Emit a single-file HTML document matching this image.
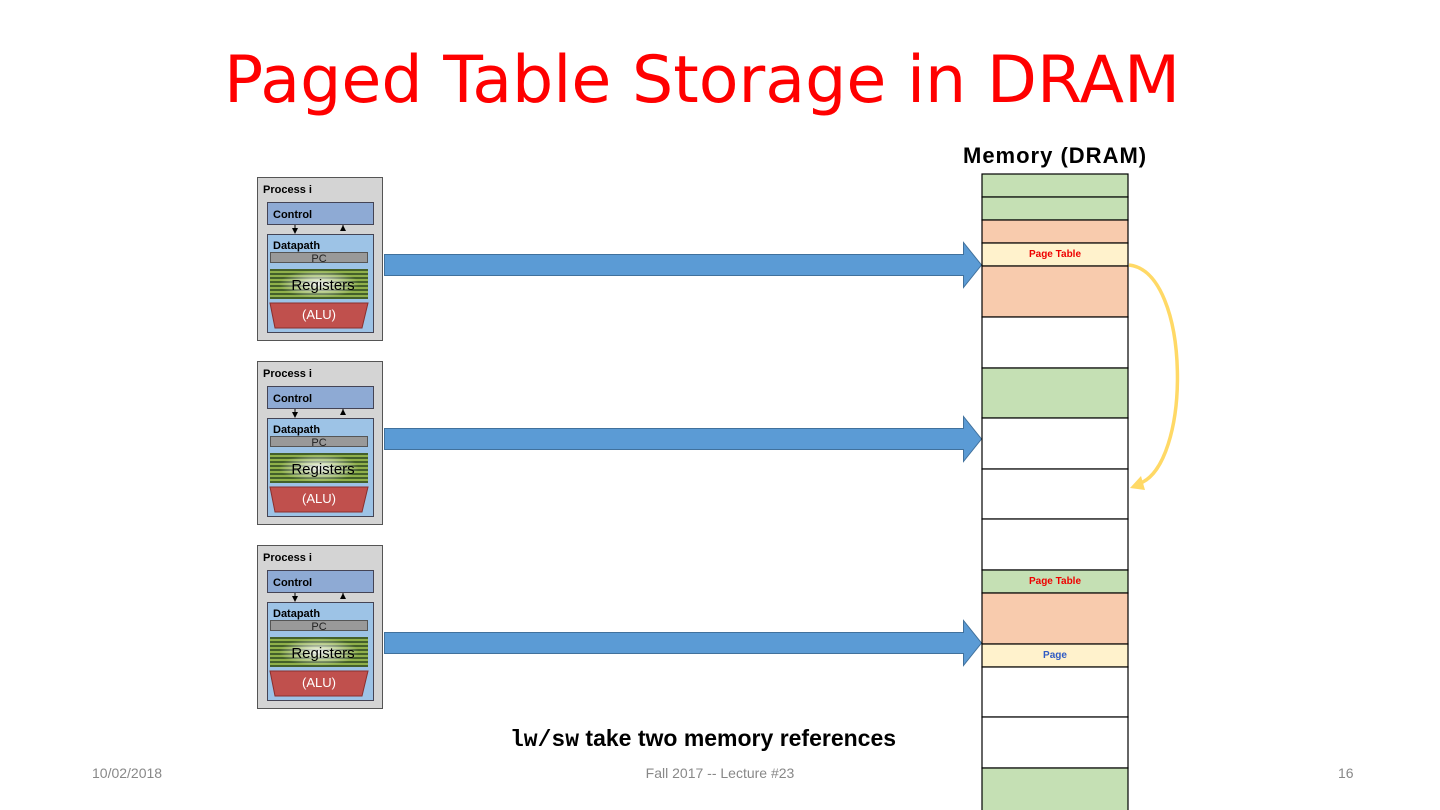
<!DOCTYPE html>
<html><head><meta charset="utf-8"><style>
body{margin:0;width:1440px;height:810px;background:#fff;position:relative;overflow:hidden;font-family:"Liberation Sans","DejaVu Sans",sans-serif}
.a{position:absolute}
</style></head><body>
<div class="a" style="left:0;top:41px;width:1404px;text-align:center;font-family:'DejaVu Sans',sans-serif;font-size:65px;color:#f00;line-height:80px;white-space:nowrap">Paged Table Storage in DRAM</div>
<div class="a" style="left:963px;top:143px;font-size:22px;font-weight:bold;color:#000;letter-spacing:1px;white-space:nowrap">Memory (DRAM)</div>
<svg class="a" style="left:0;top:0" width="1440" height="810" xmlns="http://www.w3.org/2000/svg" font-family="Liberation Sans, sans-serif">
<defs>
<pattern id="reg" width="4" height="4" patternUnits="userSpaceOnUse"><rect width="4" height="4" fill="#8fb04a"/><rect width="4" height="2" fill="#44602a"/></pattern>
<radialGradient id="glow"><stop offset="0" stop-color="#fff" stop-opacity="0.95"/><stop offset="1" stop-color="#fff" stop-opacity="0"/></radialGradient>
<g id="proc">
<rect x="257.5" y="0.5" width="125" height="163" fill="#d4d4d4" stroke="#555"/>
<text x="263" y="16" font-size="11" font-weight="bold">Process i</text>
<rect x="267.5" y="25.5" width="106" height="22" fill="#8eaad4" stroke="#445"/>
<text x="273" y="41" font-size="11" font-weight="bold">Control</text>
<path d="M295 48v6M343 48v6" stroke="#000"/>
<path d="M292 51l3 6 3-6z M340 54l3-6 3 6z" fill="#000"/>
<rect x="267.5" y="57.5" width="106" height="98" fill="#9dc3e6" stroke="#445"/>
<text x="273" y="72" font-size="11" font-weight="bold">Datapath</text>
<rect x="270.5" y="75.5" width="97" height="10" fill="#999" stroke="#555"/>
<text x="319" y="85" font-size="11" text-anchor="middle" fill="#222">PC</text>
<rect x="270" y="92" width="98" height="30" fill="url(#reg)"/>
<ellipse cx="319" cy="107" rx="40" ry="14" fill="url(#glow)"/>
<text x="323" y="113" font-size="15" text-anchor="middle">Registers</text>
<path d="M270 126H368L362 151H275Z" fill="#c0504d" stroke="#8a2f2d"/>
<text x="319" y="142" font-size="13" text-anchor="middle" fill="#fff">(ALU)</text>
</g>
<g id="arr"><path d="M384.5 -10.5H963.5V-22.5L981.5 0L963.5 22.5V10.5H384.5Z" fill="#5b9bd5" stroke="#41719c"/></g>
</defs>
<use href="#proc" y="177"/>
<use href="#proc" y="361"/>
<use href="#proc" y="545"/>
<use href="#arr" y="265"/>
<use href="#arr" y="439"/>
<use href="#arr" y="643"/>
<g stroke="#000" stroke-width="1.2">
<rect x="982" y="174" width="146" height="23" fill="#c5e0b4"/>
<rect x="982" y="197" width="146" height="23" fill="#c5e0b4"/>
<rect x="982" y="220" width="146" height="23" fill="#f8cbad"/>
<rect x="982" y="243" width="146" height="23" fill="#fff2cc"/>
<rect x="982" y="266" width="146" height="51" fill="#f8cbad"/>
<rect x="982" y="317" width="146" height="51" fill="#fff"/>
<rect x="982" y="368" width="146" height="50" fill="#c5e0b4"/>
<rect x="982" y="418" width="146" height="51" fill="#fff"/>
<rect x="982" y="469" width="146" height="50" fill="#fff"/>
<rect x="982" y="519" width="146" height="51" fill="#fff"/>
<rect x="982" y="570" width="146" height="23" fill="#c5e0b4"/>
<rect x="982" y="593" width="146" height="51" fill="#f8cbad"/>
<rect x="982" y="644" width="146" height="23" fill="#fff2cc"/>
<rect x="982" y="667" width="146" height="50" fill="#fff"/>
<rect x="982" y="717" width="146" height="51" fill="#fff"/>
<rect x="982" y="768" width="146" height="50" fill="#c5e0b4"/>
</g>
<text x="1055" y="257" font-size="10" font-weight="bold" fill="#e00" text-anchor="middle">Page Table</text>
<text x="1055" y="584" font-size="10" font-weight="bold" fill="#e00" text-anchor="middle">Page Table</text>
<text x="1055" y="658" font-size="10" font-weight="bold" fill="#2f5bc4" text-anchor="middle">Page</text>
<path d="M1129 265C1192 272 1192 468 1138 484" fill="none" stroke="#ffd966" stroke-width="3.5"/>
<path d="M1130 488L1141 476L1145 490Z" fill="#ffd966"/>
</svg>
<div class="a" style="left:510px;top:725px;font-size:23px;font-weight:bold;color:#000;white-space:nowrap"><span style="font-family:'Liberation Mono',monospace">lw/sw</span> take two memory references</div>
<div class="a" style="left:92px;top:765px;font-size:14px;color:#888">10/02/2018</div>
<div class="a" style="left:0;width:1440px;text-align:center;top:765px;font-size:14px;color:#888">Fall 2017 -- Lecture #23</div>
<div class="a" style="left:1338px;top:765px;font-size:14px;color:#888">16</div>
</body></html>
